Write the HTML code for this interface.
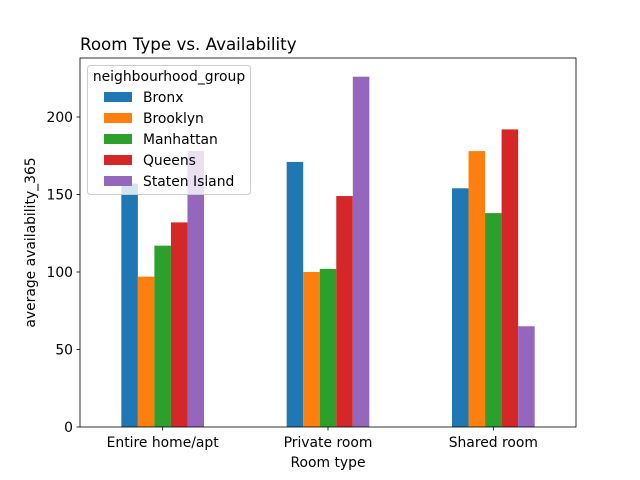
<!DOCTYPE html>
<html><head><meta charset="utf-8"><style>
body{margin:0;background:#fff}
svg{display:block;font-family:"DejaVu Sans","Liberation Sans",sans-serif}
</style></head><body>
<svg id="chart" width="640" height="480" xmlns="http://www.w3.org/2000/svg">
<rect width="640" height="480" fill="#fff"/>
<text x="80" y="50" font-size="16.7">Room Type vs. Availability</text>
<g id="bars"></g>
<g id="axes"></g>
<g id="legend"></g>
</svg>
<script>
const categories = ["Entire home/apt", "Private room", "Shared room"];
const seriesNames = ["Bronx", "Brooklyn", "Manhattan", "Queens", "Staten Island"];
const bronx = [157, 171, 154];
const brooklyn = [97, 100, 178];
const manhattan = [117, 102, 138];
const queens = [132, 149, 192];
const statenIsland = [178, 226, 65];
const yTicks = [0, 50, 100, 150, 200];

const series = [bronx, brooklyn, manhattan, queens, statenIsland];
const colors = ["#1f77b4", "#ff7f0e", "#2ca02c", "#d62728", "#9467bd"];
const L = 80, R = 576, T = 58, B = 427;
const ymax = 238.06;
const xScale = v => L + (v + 0.5) * (R - L) / 3;
const yScale = v => B - v * (B - T) / ymax;
const NS = "http://www.w3.org/2000/svg";
function mk(tag, attrs, parent, text) {
  const e = document.createElementNS(NS, tag);
  for (const k in attrs) e.setAttribute(k, attrs[k]);
  if (text !== undefined) e.textContent = text;
  parent.appendChild(e);
  return e;
}
const gb = document.getElementById("bars");
const bw = 0.1;
series.forEach((vals, s) => {
  vals.forEach((v, c) => {
    const x0 = xScale(c - 0.25 + s * bw);
    const x1 = xScale(c - 0.25 + (s + 1) * bw);
    const r = mk("rect", {x: x0, y: yScale(v), width: x1 - x0, height: yScale(0) - yScale(v), fill: colors[s]}, gb);
    
    
  });
});
const ga = document.getElementById("axes");
const frame = mk("rect", {x: L, y: T, width: R - L, height: B - T, fill: "none", stroke: "#000", "stroke-width": 0.8}, ga);


yTicks.forEach(t => {
  const y = yScale(t);
  mk("line", {x1: L - 3.5, x2: L, y1: y, y2: y, stroke: "#000", "stroke-width": 0.8}, ga);
  const tx = mk("text", {x: L - 7, y: y + 5, "font-size": 13.9, "text-anchor": "end"}, ga, t);
  
  
});
categories.forEach((c, i) => {
  const x = xScale(i);
  mk("line", {x1: x, x2: x, y1: B, y2: B + 3.5, stroke: "#000", "stroke-width": 0.8}, ga);
  const tx = mk("text", {x: x, y: B + 20, "font-size": 13.9, "text-anchor": "middle"}, ga, c);
  
  
});
const xt = mk("text", {x: (L + R) / 2, y: 467, "font-size": 13.9, "text-anchor": "middle"}, ga, "Room type");


const yt = mk("text", {x: 0, y: 0, "font-size": 13.9, "text-anchor": "middle", transform: "translate(35," + ((T + B) / 2) + ") rotate(-90)"}, ga, "average availability_365");



const gl = document.getElementById("legend");
const box = mk("rect", {x: 87.5, y: 65.5, width: 163, height: 129, rx: 3, fill: "#fff", "fill-opacity": 0.8, stroke: "#ccc"}, gl);


const lt = mk("text", {x: 169, y: 81, "font-size": 13.9, "text-anchor": "middle"}, gl, "neighbourhood_group");


seriesNames.forEach((n, i) => {
  const y = 97 + i * 21;
  const g = mk("g", {}, gl);
  
  
  mk("rect", {x: 104, y: y - 5, width: 28, height: 10, fill: colors[i]}, g);
  mk("text", {x: 143, y: y + 5, "font-size": 13.9}, g, n);
});
</script>
</body></html>
